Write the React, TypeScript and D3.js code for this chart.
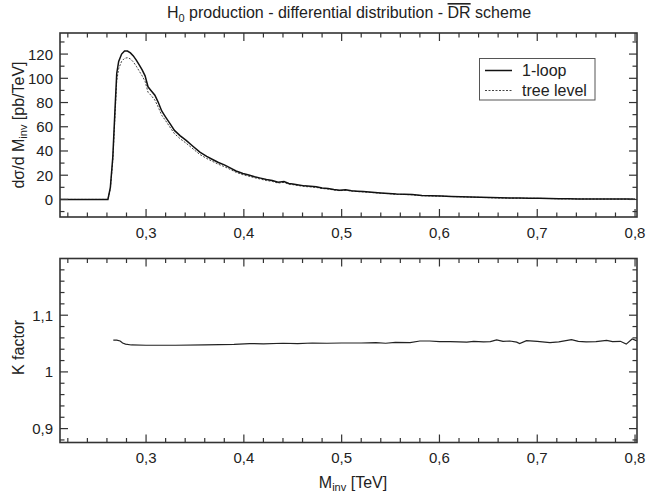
import React from 'react';
import * as d3 from 'd3';

const mInv = [0.212, 0.261, 0.2635, 0.266, 0.268, 0.270, 0.272, 0.275, 0.278, 0.281,
  0.284, 0.287, 0.290, 0.293, 0.296, 0.299, 0.302, 0.305, 0.309, 0.312,
  0.316, 0.320, 0.325, 0.329, 0.335, 0.341, 0.347, 0.355, 0.362, 0.368,
  0.374, 0.380, 0.386, 0.392, 0.399, 0.405, 0.411, 0.417, 0.423, 0.429,
  0.435, 0.441, 0.446, 0.450, 0.456, 0.462, 0.468, 0.474, 0.480, 0.486,
  0.492, 0.498, 0.504, 0.510, 0.516, 0.522, 0.528, 0.534, 0.540, 0.548,
  0.556, 0.564, 0.572, 0.582, 0.592, 0.602, 0.612, 0.622, 0.632, 0.642,
  0.652, 0.662, 0.672, 0.682, 0.692, 0.702, 0.712, 0.722, 0.732, 0.742,
  0.752, 0.762, 0.772, 0.782, 0.792, 0.800];

const oneLoop = [0, 0, 10, 35, 70, 104, 114, 120, 122.5, 122.5,
  121, 118.5, 115, 111, 107, 102, 93, 90, 86, 81,
  73, 68, 62, 57, 52.5, 48.7, 44.5, 39, 35.5, 33,
  30.5, 28.5, 26, 23.5, 21.4, 20.2, 18.8, 17.6, 16.4, 15.6,
  14.2, 14.8, 13.2, 12.8, 12.0, 11.2, 10.8, 10.4, 9.4, 9.0,
  8.2, 7.6, 8.0, 7.2, 6.8, 6.5, 6.2, 5.8, 5.4, 5.0,
  4.4, 4.3, 4.0, 3.3, 3.0, 2.8, 2.5, 2.3, 2.0, 1.8,
  1.5, 1.3, 1.2, 1.1, 1.0, 0.9, 0.8, 0.6, 0.5, 0.45,
  0.4, 0.35, 0.35, 0.3, 0.3, 0.25];

const treeLevel = [0, 0, 9, 32, 65, 98, 108, 114, 116.5, 117,
  116, 113.5, 110, 106, 102, 97.5, 88.5, 86, 82, 77,
  69.5, 65, 59, 54.3, 50, 46.4, 42.4, 37.1, 33.8, 31.4,
  29, 27.1, 24.8, 22.4, 20.4, 19.2, 17.9, 16.8, 15.6, 14.9,
  13.5, 14.1, 12.6, 12.2, 11.4, 10.7, 10.3, 9.9, 9.0, 8.6,
  7.8, 7.2, 7.6, 6.9, 6.5, 6.2, 5.9, 5.5, 5.1, 4.8,
  4.2, 4.1, 3.8, 3.1, 2.9, 2.7, 2.4, 2.2, 1.9, 1.7,
  1.4, 1.2, 1.1, 1.0, 0.95, 0.85, 0.75, 0.57, 0.48, 0.43,
  0.38, 0.33, 0.33, 0.28, 0.28, 0.24];

const kX = [0.2665, 0.270, 0.2735, 0.276, 0.279, 0.285, 0.300, 0.330, 0.360, 0.390,
  0.406, 0.420, 0.440, 0.455, 0.470, 0.485, 0.500, 0.520, 0.535, 0.545,
  0.555, 0.570, 0.580, 0.590, 0.600, 0.611, 0.620, 0.628, 0.635, 0.645,
  0.652, 0.6585, 0.665, 0.672, 0.679, 0.682, 0.689, 0.700, 0.713, 0.722,
  0.735, 0.742, 0.750, 0.760, 0.771, 0.777, 0.785, 0.791, 0.797, 0.802];

const kFactor = [1.056, 1.056, 1.0545, 1.051, 1.049, 1.0475, 1.047, 1.047, 1.0475, 1.0485,
  1.050, 1.0495, 1.0505, 1.050, 1.051, 1.0505, 1.051, 1.051, 1.0515, 1.0505,
  1.052, 1.0515, 1.0545, 1.0545, 1.0535, 1.0535, 1.053, 1.0525, 1.054, 1.053,
  1.0535, 1.0565, 1.054, 1.0545, 1.0525, 1.050, 1.055, 1.054, 1.0515, 1.053,
  1.057, 1.054, 1.053, 1.0535, 1.0555, 1.0535, 1.054, 1.049, 1.058, 1.0547];

const xTickValues = [0.3, 0.4, 0.5, 0.6, 0.7, 0.8];
const topYTicks = [0, 20, 40, 60, 80, 100, 120];
const kTicks = [0.9, 1, 1.1];
const seriesNames = ['1-loop', 'tree level'];

const FONT = '"Liberation Sans", Arial, Helvetica, sans-serif';
const AX = '#333';
const TXT = '#222';

const fmt = (v: number) => String(+v.toFixed(3)).replace('.', ',');
const range = (a: number, b: number, s: number) => {
  const out: number[] = [];
  for (let i = 0; a + i * s <= b + 1e-9; i++) out.push(+(a + i * s).toFixed(4));
  return out;
};

export default function App() {
  const left = 60, right = 637;
  const x = d3.scaleLinear().domain([0.212, 0.802]).range([left, right]);
  const yTop = d3.scaleLinear().domain([-14.5, 137.4]).range([217, 33]);
  const yBot = d3.scaleLinear().domain([0.8755, 1.2]).range([442.5, 258.5]);

  const topLine = d3.line<number>().x((_, i) => x(mInv[i])).y((d) => yTop(d));
  const kLine = d3.line<number>().x((_, i) => x(kX[i])).y((d) => yBot(d));

  const xMinor = range(0.22, 0.80, 0.02).filter((v) => !xTickValues.some((m) => Math.abs(m - v) < 1e-6));
  const topMinor = range(-10, 130, 10).filter((v) => !topYTicks.includes(v));
  const kMinor = range(0.88, 1.18, 0.02).filter((v) => !kTicks.some((m) => Math.abs(m - v) < 1e-6));

  const MAJ = 8, MIN = 4.5;

  const frame = (y: d3.ScaleLinear<number, number>, yMajor: number[], yMinor: number[], key: string) => {
    const [y0, y1] = y.range();
    const els: React.ReactNode[] = [];
    xTickValues.forEach((v, i) => {
      els.push(<line key={key + 'xb' + i} x1={x(v)} x2={x(v)} y1={y0} y2={y0 - MAJ} />);
      els.push(<line key={key + 'xt' + i} x1={x(v)} x2={x(v)} y1={y1} y2={y1 + MAJ} />);
    });
    xMinor.forEach((v, i) => {
      els.push(<line key={key + 'xmb' + i} x1={x(v)} x2={x(v)} y1={y0} y2={y0 - MIN} />);
      els.push(<line key={key + 'xmt' + i} x1={x(v)} x2={x(v)} y1={y1} y2={y1 + MIN} />);
    });
    yMajor.forEach((v, i) => {
      els.push(<line key={key + 'yl' + i} x1={left} x2={left + MAJ} y1={y(v)} y2={y(v)} />);
      els.push(<line key={key + 'yr' + i} x1={right} x2={right - MAJ} y1={y(v)} y2={y(v)} />);
    });
    yMinor.forEach((v, i) => {
      els.push(<line key={key + 'yml' + i} x1={left} x2={left + MIN} y1={y(v)} y2={y(v)} />);
      els.push(<line key={key + 'ymr' + i} x1={right} x2={right - MIN} y1={y(v)} y2={y(v)} />);
    });
    return (
      <g stroke={AX} strokeWidth={1.2}>
        {els}
        <rect x={left} y={y1} width={right - left} height={y0 - y1} fill="none" strokeWidth={1.6} />
      </g>
    );
  };

  return (
    <svg width={652} height={501} style={{ position: 'absolute', left: 0, top: 0, background: '#fff' }}
      fontFamily={FONT}>
      <rect x={0} y={0} width={652} height={501} fill="#fff" />
      {/* title */}
      <text x={349} y={18} textAnchor="middle" fontSize={16} fill={TXT}>
        H<tspan fontSize={11} dy={4}>0</tspan><tspan dy={-4}> production - differential distribution - </tspan>
        <tspan textDecoration="overline" style={{ textDecoration: 'overline' }}>DR</tspan><tspan> scheme</tspan>
      </text>

      {/* top panel */}
      <g fill="none">
        <path d={topLine(treeLevel) || ''} stroke="#444" strokeWidth={1} strokeDasharray="2,1.5" />
        <path d={topLine(oneLoop) || ''} stroke="#111" strokeWidth={1.5} />
      </g>
      {frame(yTop, topYTicks, topMinor, 't')}
      <g fontSize={15} fill={TXT}>
        {topYTicks.map((v) => (
          <text key={'tyl' + v} x={53} y={yTop(v) + 5.5} textAnchor="end">{fmt(v)}</text>
        ))}
        {xTickValues.map((v) => (
          <text key={'txl' + v} x={x(v)} y={238} textAnchor="middle">{fmt(v)}</text>
        ))}
      </g>
      <text transform={`translate(24,${(33 + 217) / 2}) rotate(-90)`} textAnchor="middle" fontSize={16} fill={TXT}>
        dσ/d M<tspan fontSize={11} dy={3}>inv</tspan><tspan dy={-3}> [pb/TeV]</tspan>
      </text>

      {/* legend */}
      <g>
        <rect x={479.5} y={58.5} width={115.5} height={41.5} fill="#fff" stroke="#555" strokeWidth={1} />
        <line x1={485} x2={512} y1={70.5} y2={70.5} stroke="#111" strokeWidth={1.5} />
        <line x1={485} x2={512} y1={90.5} y2={90.5} stroke="#444" strokeWidth={1} strokeDasharray="2,1.5" />
        <text x={522} y={76} fontSize={16} fill={TXT}>{seriesNames[0]}</text>
        <text x={522} y={96} fontSize={16} fill={TXT}>{seriesNames[1]}</text>
      </g>

      {/* bottom panel */}
      <path d={kLine(kFactor) || ''} fill="none" stroke="#222" strokeWidth={1.2} />
      {frame(yBot, kTicks, kMinor, 'b')}
      <g fontSize={15} fill={TXT}>
        {kTicks.map((v) => (
          <text key={'byl' + v} x={53} y={yBot(v) + 5.5} textAnchor="end">{fmt(v)}</text>
        ))}
        {xTickValues.map((v) => (
          <text key={'bxl' + v} x={x(v)} y={462.5} textAnchor="middle">{fmt(v)}</text>
        ))}
      </g>
      <text transform={`translate(24,${(258.5 + 442.5) / 2 - 3}) rotate(-90)`} textAnchor="middle" fontSize={16} fill={TXT}>
        K factor
      </text>
      <text x={353} y={488} textAnchor="middle" fontSize={16} fill={TXT}>
        M<tspan fontSize={11} dy={3}>inv</tspan><tspan dy={-3}> [TeV]</tspan>
      </text>
    </svg>
  );
}
